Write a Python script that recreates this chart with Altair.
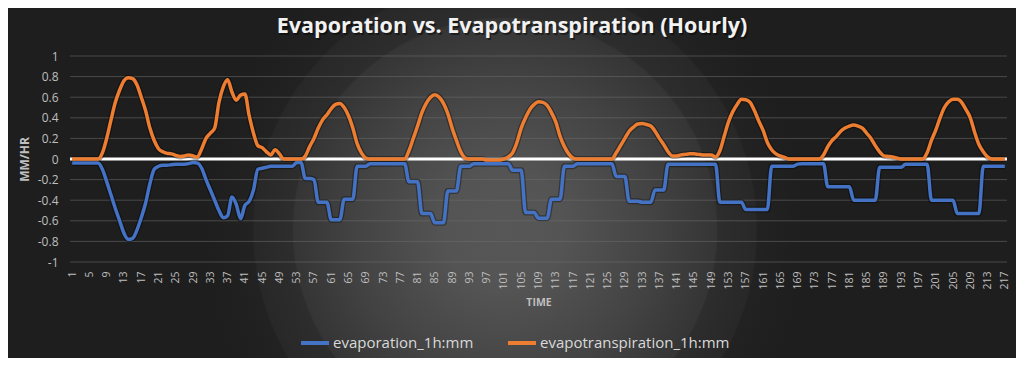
import altair as alt
import pandas as pd

# ---------------- data ----------------
hours = list(range(1, 218))

evaporation = [
    -0.04, -0.04, -0.04, -0.04, -0.04, -0.04, -0.04, -0.1, -0.22, -0.35,      # 1-10
    -0.48, -0.6, -0.72, -0.78, -0.77, -0.69, -0.57, -0.43, -0.24, -0.1,       # 11-20
    -0.07, -0.06, -0.06, -0.055, -0.05, -0.05, -0.05, -0.045, -0.035, -0.04,  # 21-30
    -0.09, -0.2, -0.3, -0.4, -0.5, -0.57, -0.55, -0.37, -0.44, -0.58,         # 31-40
    -0.45, -0.41, -0.3, -0.1, -0.09, -0.08, -0.07, -0.07, -0.07, -0.07,       # 41-50
    -0.07, -0.07, -0.035, -0.035, -0.19, -0.19, -0.2, -0.42, -0.42, -0.42,    # 51-60
    -0.59, -0.59, -0.59, -0.39, -0.39, -0.39, -0.07, -0.07, -0.07, -0.045,    # 61-70
    -0.045, -0.045, -0.045, -0.045, -0.045, -0.045, -0.045, -0.045, -0.22, -0.22,  # 71-80
    -0.22, -0.53, -0.53, -0.53, -0.62, -0.62, -0.62, -0.31, -0.31, -0.31,     # 81-90
    -0.07, -0.07, -0.07, -0.045, -0.045, -0.045, -0.045, -0.045, -0.045, -0.045,   # 91-100
    -0.045, -0.045, -0.11, -0.11, -0.11, -0.52, -0.52, -0.52, -0.575, -0.575, # 101-110
    -0.575, -0.39, -0.39, -0.39, -0.07, -0.07, -0.07, -0.045, -0.045, -0.045, # 111-120
    -0.045, -0.045, -0.045, -0.045, -0.045, -0.045, -0.17, -0.17, -0.17, -0.41,    # 121-130
    -0.41, -0.41, -0.42, -0.42, -0.42, -0.3, -0.3, -0.3, -0.05, -0.05,        # 131-140
    -0.05, -0.05, -0.05, -0.05, -0.05, -0.05, -0.05, -0.05, -0.05, -0.05,     # 141-150
    -0.42, -0.42, -0.42, -0.42, -0.42, -0.42, -0.49, -0.49, -0.49, -0.49,     # 151-160
    -0.49, -0.49, -0.07, -0.07, -0.07, -0.07, -0.07, -0.07, -0.05, -0.045,    # 161-170
    -0.045, -0.045, -0.045, -0.045, -0.045, -0.27, -0.27, -0.27, -0.27, -0.27,     # 171-180
    -0.27, -0.4, -0.4, -0.4, -0.4, -0.4, -0.4, -0.08, -0.08, -0.08,           # 181-190
    -0.08, -0.08, -0.08, -0.05, -0.05, -0.05, -0.05, -0.05, -0.05, -0.4,      # 191-200
    -0.4, -0.4, -0.4, -0.4, -0.4, -0.53, -0.53, -0.53, -0.53, -0.53,          # 201-210
    -0.53, -0.07, -0.07, -0.07, -0.07, -0.07, -0.07,                          # 211-217
]

evapotranspiration = [
    0, 0, 0, 0, 0, 0, 0, 0.06, 0.2, 0.38,                     # 1-10
    0.55, 0.67, 0.76, 0.79, 0.78, 0.72, 0.6, 0.47, 0.3, 0.18,  # 11-20
    0.1, 0.07, 0.055, 0.05, 0.035, 0.025, 0.03, 0.04, 0.03, 0.02,  # 21-30
    0.1, 0.2, 0.25, 0.3, 0.55, 0.7, 0.77, 0.65, 0.57, 0.62,    # 31-40
    0.63, 0.42, 0.25, 0.13, 0.11, 0.07, 0.04, 0.09, 0.05, 0,   # 41-50
    0, 0, 0, 0, 0.03, 0.12, 0.2, 0.3, 0.38, 0.43,              # 51-60
    0.49, 0.53, 0.54, 0.5, 0.42, 0.3, 0.15, 0.06, 0.01, 0,     # 61-70
    0, 0, 0, 0, 0, 0, 0, 0, 0.08, 0.2,                         # 71-80
    0.32, 0.45, 0.54, 0.6, 0.625, 0.6, 0.54, 0.44, 0.3, 0.18,  # 81-90
    0.07, 0.01, 0, 0, 0, 0, -0.01, -0.01, -0.01, -0.01,        # 91-100
    0, 0.02, 0.06, 0.16, 0.3, 0.4, 0.48, 0.53, 0.555, 0.55,    # 101-110
    0.52, 0.45, 0.36, 0.22, 0.12, 0.05, 0.01, 0, 0, 0,         # 111-120
    0, 0, 0, 0, 0, 0, 0.06, 0.13, 0.2, 0.27,                   # 121-130
    0.31, 0.34, 0.345, 0.335, 0.32, 0.27, 0.2, 0.14, 0.07, 0.03,  # 131-140
    0.03, 0.04, 0.045, 0.05, 0.05, 0.045, 0.04, 0.04, 0.04, 0.02,  # 141-150
    0.08, 0.22, 0.36, 0.46, 0.53, 0.58, 0.575, 0.55, 0.47, 0.37,   # 151-160
    0.28, 0.16, 0.09, 0.05, 0.03, 0.015, 0, 0, 0, 0,           # 161-170
    0, 0, 0, 0, 0.04, 0.12, 0.18, 0.22, 0.27, 0.3,             # 171-180
    0.32, 0.33, 0.32, 0.3, 0.25, 0.2, 0.13, 0.07, 0.03, 0.025, # 181-190
    0.02, 0.01, 0, 0, 0, 0, 0, 0, 0.06, 0.18,                  # 191-200
    0.28, 0.4, 0.5, 0.555, 0.58, 0.58, 0.55, 0.48, 0.4, 0.26,  # 201-210
    0.14, 0.07, 0.02, 0, 0, 0, 0,                              # 211-217
]

series_names = ["evaporation_1h:mm", "evapotranspiration_1h:mm"]
series_colors = ["#4472C4", "#ED7D31"]
y_ticks = [-1, -0.8, -0.6, -0.4, -0.2, 0, 0.2, 0.4, 0.6, 0.8, 1]
x_ticks = list(range(1, 218, 4))
title_text = "Evaporation vs. Evapotranspiration (Hourly)"

assert len(evaporation) == 217 and len(evapotranspiration) == 217

df = pd.DataFrame({
    "hour": hours + hours,
    "value": evaporation + evapotranspiration,
    "series": [series_names[0]] * len(hours) + [series_names[1]] * len(hours),
})
grid_df = pd.DataFrame({"value": y_ticks})

LABEL = "#bfbfbf"
FONT = "Open Sans"

x_scale = alt.Scale(domain=[0.5, 217.5], nice=False, zero=False)
y_scale = alt.Scale(domain=[-1, 1], nice=False, zero=False)

x_axis = alt.Axis(
    values=x_ticks, tickCount=len(x_ticks), labelAngle=270, title="TIME", grid=False,
    domain=False, ticks=False,
    labelPadding=9, labelFontSize=10.5, labelColor=LABEL, labelFont=FONT,
    labelFlush=False, labelOverlap=False, labelBound=False, zindex=1,
    titlePadding=8, titleFontSize=10.5, titleFontWeight="bold", titleColor=LABEL, titleFont=FONT,
)
y_axis = alt.Axis(
    values=y_ticks, tickCount=len(y_ticks), labelExpr="'' + datum.value", title="MM/HR",
    grid=False, domain=False, ticks=False, labelPadding=12, labelFontSize=12, labelColor=LABEL,
    labelFont=FONT, labelOverlap=False, labelFlush=False,
    titleFontSize=12, titleFontWeight="bold", titleColor=LABEL,
    titleFont=FONT, titlePadding=6, zindex=1,
)

# decorative radial background (concentric circles)
bg = alt.Chart(alt.Data(values=[{}])).mark_rect(
    fill={
        "gradient": "radial",
        "x1": 0.5, "y1": 0.5, "r1": 0,
        "x2": 0.5, "y2": 0.5, "r2": 0.5,
        "stops": [
            {"offset": 0.0, "color": "#575757"},
            {"offset": 0.10, "color": "#545454"},
            {"offset": 0.17, "color": "#4c4c4c"},
            {"offset": 0.25, "color": "#434343"},
            {"offset": 0.30, "color": "#3c3c3c"},
            {"offset": 0.352, "color": "#353535"},
            {"offset": 0.355, "color": "#2d2d2d"},
            {"offset": 0.418, "color": "#282828"},
            {"offset": 0.421, "color": "#222222"},
            {"offset": 0.50, "color": "#1e1e1e"},
        ],
    },
).encode(
    x=alt.value(-165), x2=alt.value(1035), y=alt.value(-426), y2=alt.value(774)
)

y_enc = alt.Y("value:Q", scale=y_scale, axis=y_axis)

grid = alt.Chart(grid_df).mark_rule(color="#6e6e6e", strokeWidth=1, opacity=0.55).encode(
    y=y_enc
)

zero_line = alt.Chart(alt.Data(values=[{}])).mark_rule(color="white", strokeWidth=3).encode(
    y=alt.datum(0)
)

title_data = alt.Data(values=[{"t": title_text}])
title_shadow = alt.Chart(title_data).mark_text(
    font=FONT, fontSize=21.5, fontWeight="bold", color="black", opacity=0.45,
    align="center", baseline="alphabetic", dx=1.5, dy=1.5,
).encode(x=alt.value(442), y=alt.value(-22.7), text="t:N")
title = alt.Chart(title_data).mark_text(
    font=FONT, fontSize=21.5, fontWeight="bold", color="#f2f2f2",
    align="center", baseline="alphabetic",
).encode(x=alt.value(442), y=alt.value(-22.7), text="t:N")

x_enc = alt.X("hour:Q", scale=x_scale, axis=x_axis)

shadow = alt.Chart(df).mark_line(
    color="black", strokeWidth=6, opacity=0.35, interpolate="monotone"
).encode(x=x_enc, y=y_enc, detail="series:N")

lines = alt.Chart(df).mark_line(strokeWidth=3.5, interpolate="monotone").encode(
    x=x_enc,
    y=y_enc,
    color=alt.Color(
        "series:N",
        scale=alt.Scale(domain=series_names, range=series_colors),
        sort=series_names,
        legend=alt.Legend(
            orient="none", legendX=229, legendY=271, direction="horizontal", title=None,
            symbolType="stroke", symbolSize=784, symbolStrokeWidth=4,
            labelFontSize=15, labelColor="#d9d9d9", labelFont=FONT,
            columnPadding=26, labelOffset=2, labelLimit=400, zindex=1,
        ),
    ),
)

chart = alt.layer(bg, grid, zero_line, shadow, lines, title_shadow, title).properties(
    width=937,
    height=206,
    autosize=alt.AutoSizeParams(type="none"),
    padding={"left": 62, "top": 48, "right": 9, "bottom": 96},
    background="#2a2a2a",
).configure_view(stroke=None).configure_axis(labelOverlap=False)

chart.save("out.html", embed_options={"renderer": "svg", "actions": False})
